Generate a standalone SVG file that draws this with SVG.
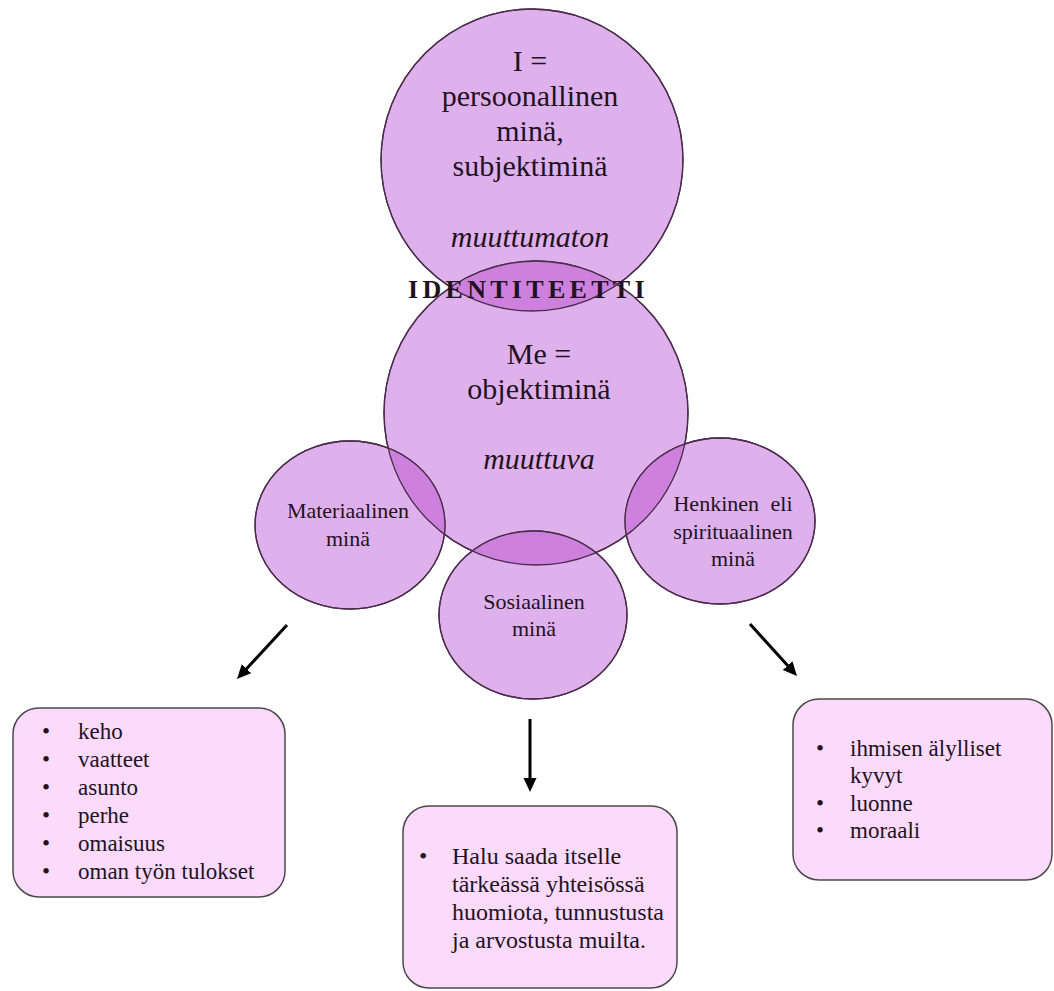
<svg xmlns="http://www.w3.org/2000/svg" xmlns:xlink="http://www.w3.org/1999/xlink" width="1054" height="991" viewBox="0 0 1054 991">
<style>
.circ{fill:#dfb1ec;stroke:#4b2d4b;stroke-width:1.3}
.outl{fill:none;stroke:#4b2d4b;stroke-width:1.3}
.lens{fill:#cd80dd;stroke:none}
.box{fill:#fcdafc;stroke:#4a4a4a;stroke-width:1.5}
.t{font-family:"Liberation Serif","Times New Roman",serif;fill:#22121f}
.big{font-size:30px;text-anchor:middle}
.mid{font-size:22px;text-anchor:middle}
.lst{font-size:23px}
.it{font-style:italic}
.conn{stroke:#000;stroke-width:3;fill:none}
</style>
<defs>
<circle id="shI" cx="532" cy="160" r="151"/>
<circle id="shMe" cx="536" cy="413" r="152"/>
<ellipse id="shMat" cx="350" cy="525" rx="95" ry="84"/>
<ellipse id="shSos" cx="533" cy="615" rx="94" ry="84"/>
<ellipse id="shHen" cx="720" cy="521" rx="95" ry="83"/>
<clipPath id="cI"><use href="#shI"/></clipPath>
<clipPath id="cMat"><use href="#shMat"/></clipPath>
<clipPath id="cSos"><use href="#shSos"/></clipPath>
<clipPath id="cHen"><use href="#shHen"/></clipPath>
<marker id="ah" markerUnits="userSpaceOnUse" markerWidth="16" markerHeight="14" refX="4" refY="6.5" orient="auto" viewBox="0 0 16 14">
<path d="M0,0 L14,6.5 L0,13 z" fill="#000"/>
</marker>
</defs>
<rect width="1054" height="991" fill="#fff"/>

<g id="node-I">
<use href="#shI" class="circ"/>
<text class="t big" x="530" y="71">I =</text>
<text class="t big" x="530" y="106">persoonallinen</text>
<text class="t big" x="530" y="141">minä,</text>
<text class="t big" x="530" y="176">subjektiminä</text>
<text class="t big it" x="530" y="247">muuttumaton</text>
</g>

<g id="node-Me">
<use href="#shMe" class="circ"/>
<text class="t big" x="539" y="364">Me =</text>
<text class="t big" x="539" y="399">objektiminä</text>
<text class="t big it" x="539" y="469">muuttuva</text>
</g>

<g id="node-materiaalinen">
<use href="#shMat" class="circ"/>
<text class="t mid" x="348" y="518">Materiaalinen</text>
<text class="t mid" x="348" y="546">minä</text>
</g>

<g id="node-sosiaalinen">
<use href="#shSos" class="circ"/>
<text class="t mid" x="534" y="609">Sosiaalinen</text>
<text class="t mid" x="534" y="636">minä</text>
</g>

<g id="node-henkinen">
<use href="#shHen" class="circ"/>
<text class="t mid" x="733" y="511" word-spacing="6">Henkinen eli</text>
<text class="t mid" x="733" y="539">spirituaalinen</text>
<text class="t mid" x="733" y="566">minä</text>
</g>

<g id="overlaps">
<use href="#shMe" class="lens" clip-path="url(#cI)"/>
<use href="#shMe" class="lens" clip-path="url(#cMat)"/>
<use href="#shMe" class="lens" clip-path="url(#cSos)"/>
<use href="#shMe" class="lens" clip-path="url(#cHen)"/>
<use href="#shI" class="outl"/>
<use href="#shMe" class="outl"/>
<use href="#shMat" class="outl"/>
<use href="#shSos" class="outl"/>
<use href="#shHen" class="outl"/>
</g>

<g id="title">
<text class="t" x="408" y="298" font-size="26" font-weight="bold" letter-spacing="4.3" fill="#000">IDENTITEETTI</text>
</g>

<g id="connectors">
<line class="conn" x1="287" y1="625" x2="243.8" y2="671.7" marker-end="url(#ah)"/>
<line class="conn" x1="530" y1="719" x2="530" y2="782" marker-end="url(#ah)"/>
<line class="conn" x1="750" y1="624" x2="790.3" y2="668.6" marker-end="url(#ah)"/>
</g>

<g id="box-materiaalinen">
<rect class="box" x="13" y="708" width="272" height="189" rx="26"/>
<g class="t lst">
<text x="42" y="739">•</text><text x="78" y="739">keho</text>
<text x="42" y="767">•</text><text x="78" y="767">vaatteet</text>
<text x="42" y="795">•</text><text x="78" y="795">asunto</text>
<text x="42" y="823">•</text><text x="78" y="823">perhe</text>
<text x="42" y="851">•</text><text x="78" y="851">omaisuus</text>
<text x="42" y="879">•</text><text x="78" y="879">oman työn tulokset</text>
</g>
</g>

<g id="box-sosiaalinen">
<rect class="box" x="403" y="806" width="274" height="182" rx="26"/>
<g class="t" font-size="24">
<text x="419" y="864">•</text><text x="452" y="864">Halu saada itselle</text>
<text x="452" y="892">tärkeässä yhteisössä</text>
<text x="452" y="920">huomiota, tunnustusta</text>
<text x="452" y="948">ja arvostusta muilta.</text>
</g>
</g>

<g id="box-henkinen">
<rect class="box" x="793" y="699" width="259" height="181" rx="26"/>
<g class="t lst">
<text x="816" y="756">•</text><text x="850" y="756">ihmisen älylliset</text>
<text x="850" y="783">kyvyt</text>
<text x="816" y="811">•</text><text x="850" y="811">luonne</text>
<text x="816" y="838">•</text><text x="850" y="838">moraali</text>
</g>
</g>
</svg>
